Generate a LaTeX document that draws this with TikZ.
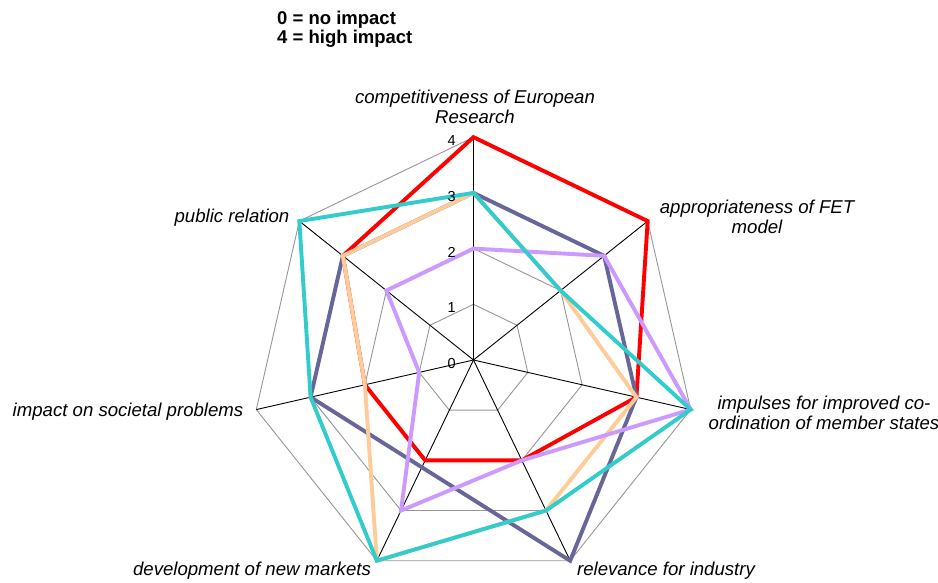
\documentclass[tikz,border=0pt]{standalone}
\usepackage{fontspec}
\setmainfont{Liberation Sans}
\usetikzlibrary{calc}
\definecolor{slateSeries}{HTML}{666699}
\definecolor{cyanSeries}{HTML}{33CCCC}
\definecolor{orangeSeries}{HTML}{FFCC99}
\definecolor{purpleSeries}{HTML}{CC99FF}
\definecolor{gridGray}{HTML}{969696}
\begin{document}
\begin{tikzpicture}[x=1pt, y=1pt,
  gridLine/.style={draw=gridGray, line width=0.9pt},
  axisLine/.style={draw=black, line width=0.9pt},
  seriesLine/.style={line width=3.9pt, line join=miter},
  tickLabel/.style={anchor=east, inner sep=0pt, font=\fontsize{14.5}{16}\selectfont},
  axisLabel/.style={align=center, inner sep=0pt, font=\itshape\fontsize{18.6}{20}\selectfont},
  noteLabel/.style={anchor=base west, inner sep=0pt, font=\bfseries\fontsize{18.5}{20}\selectfont}]

\useasboundingbox (0,-583) rectangle (938,0);

\coordinate (o) at (473.5,-360);
\foreach \k in {0,...,6}{
  \foreach \v in {1,...,4}{
    \coordinate (p\k-\v) at ($(o)+(90-\k*51.4286:\v*55.7)$);
  }
}

\foreach \v in {1,...,4}{
  \draw[gridLine] (p0-\v) -- (p1-\v) -- (p2-\v) -- (p3-\v) -- (p4-\v) -- (p5-\v) -- (p6-\v) -- cycle;
}
\foreach \k in {0,...,6}{
  \draw[axisLine] (o) -- (p\k-4);
}

\draw[seriesLine, draw=red] (p0-4) -- (p1-4) -- (p2-3) -- (p3-2) -- (p4-2) -- (p5-2) -- (p6-3) -- cycle;
\draw[seriesLine, draw=slateSeries] (p0-3) -- (p1-3) -- (p2-3) -- (p3-4) -- (p5-3) -- (p6-3) -- cycle;
\draw[seriesLine, draw=orangeSeries] (p0-3) -- (p1-2) -- (p2-3) -- (p3-3) -- (p4-4) -- (p5-2) -- (p6-3) -- cycle;
\draw[seriesLine, draw=purpleSeries] (p0-2) -- (p1-3) -- (p2-4) -- (p3-2) -- (p4-3) -- (p5-1) -- (p6-2) -- cycle;
\draw[seriesLine, draw=cyanSeries] (p0-3) -- (p1-2) -- (p2-4) -- (p3-3) -- (p4-4) -- (p5-3) -- (p6-4) -- cycle;

\node (tick0) [tickLabel, xshift=-17.5pt, yshift=-3.5pt] at (o) {0};
\foreach \v in {1,...,4}{
  \node (tick\v) [tickLabel, xshift=-17.5pt, yshift=-3.5pt] at (p0-\v) {\v};
}

\node (labelCompetitiveness) [axisLabel] at (475,-107) {competitiveness of European\\Research};
\node (labelAppropriateness) [axisLabel] at (757,-217) {appropriateness of FET\\model};
\node (labelImpulses) [axisLabel] at (824,-413) {impulses for improved co-\\ordination of member states};
\node (labelRelevance) [axisLabel] at (666,-571) {relevance for industry};
\node (labelDevelopment) [axisLabel] at (252,-571) {development of new markets};
\node (labelSocietal) [axisLabel] at (128,-412) {impact on societal problems};
\node (labelPublic) [axisLabel] at (232,-218) {public relation};

\node (noteLow) [noteLabel] at (277,-25) {0 = no impact};
\node (noteHigh) [noteLabel] at (277,-43.5) {4 = high impact};

\end{tikzpicture}
\end{document}
